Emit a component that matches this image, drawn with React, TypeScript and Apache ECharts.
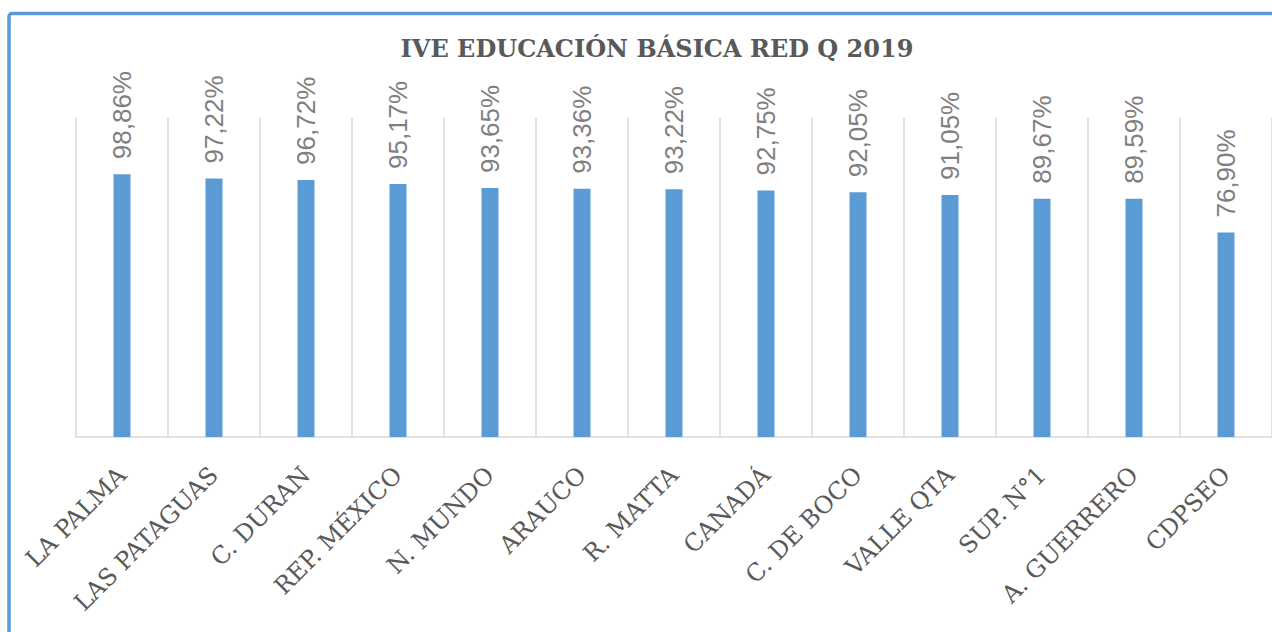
import React, { useEffect, useRef } from "react";
import * as echarts from "echarts";

const categories = [
  "LA PALMA",
  "LAS PATAGUAS",
  "C. DURAN",
  "REP. MÉXICO",
  "N. MUNDO",
  "ARAUCO",
  "R. MATTA",
  "CANADÁ",
  "C. DE BOCO",
  "VALLE QTA",
  "SUP. N°1",
  "A. GUERRERO",
  "CDPSEO",
];

const values = [98.86, 97.22, 96.72, 95.17, 93.65, 93.36, 93.22, 92.75, 92.05, 91.05, 89.67, 89.59, 76.9];

const titleText = "IVE EDUCACIÓN BÁSICA RED Q 2019";

export default function App() {
  const ref = useRef<HTMLDivElement>(null);

  useEffect(() => {
    document.body.style.margin = "0";
    if (!ref.current) return;
    const chart = echarts.init(ref.current, undefined, { renderer: "svg" });
    chart.setOption({
      animation: false,
      backgroundColor: "#ffffff",
      title: {
        text: titleText,
        left: 652,
        top: 31,
        textAlign: "center",
        textStyle: {
          fontFamily: "DejaVu Serif",
          fontWeight: "bold",
          fontSize: 24,
          color: "#595959",
        },
      },
      graphic: [
        {
          type: "rect",
          shape: { x: 9, y: 13.5, width: 1300, height: 660, r: 3 },
          style: { fill: "none", stroke: "#5B9BD5", lineWidth: 3.5 },
          silent: true,
        },
      ],
      grid: { left: 76, top: 118, width: 1199, height: 319, containLabel: false },
      xAxis: {
        type: "category",
        data: categories,
        boundaryGap: true,
        axisLine: { show: true, lineStyle: { color: "#D9D9D9", width: 1.5 } },
        axisTick: { show: false },
        splitLine: { show: true, interval: 0, lineStyle: { color: "#D9D9D9", width: 1.5 } },
        axisLabel: {
          interval: 0,
          rotate: 45,
          margin: 34,
          fontFamily: "DejaVu Serif",
          fontSize: 24,
          color: "#595959",
        },
      },
      yAxis: {
        type: "value",
        min: 0,
        max: 120,
        show: false,
        splitLine: { show: false },
      },
      series: [
        {
          type: "bar",
          data: values,
          barWidth: 17,
          itemStyle: { color: "#5B9BD5" },
          label: {
            show: true,
            position: "top",
            rotate: 90,
            align: "left",
            verticalAlign: "middle",
            distance: 15,
            fontFamily: "Liberation Sans",
            fontSize: 26,
            color: "#7F7F7F",
            formatter: (p: any) => p.value.toFixed(2).replace(".", ",") + "%",
          },
        },
      ],
    });
    return () => chart.dispose();
  }, []);

  return <div ref={ref} style={{ width: 1272, height: 632 }} />;
}
